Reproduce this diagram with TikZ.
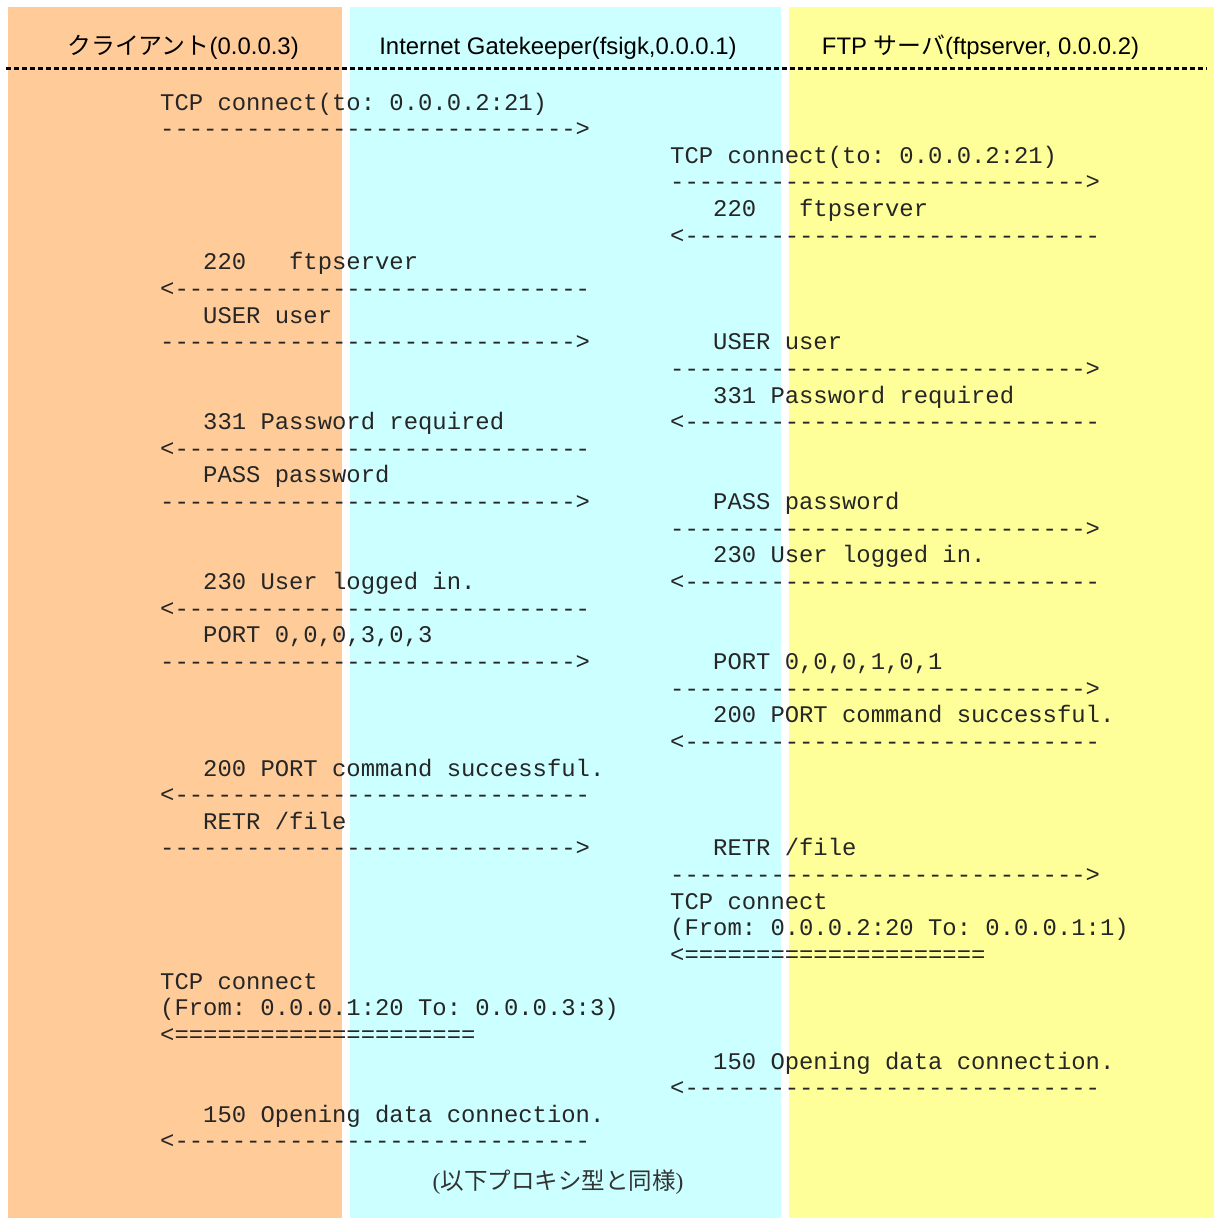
\documentclass[tikz,border=0pt]{standalone}
\usepackage{fontspec}
\setmainfont{Liberation Sans}
\setmonofont{Liberation Mono}
\newfontfamily\cjk{Noto Sans CJK JP}
\newfontfamily\serifparen{Liberation Serif}
\definecolor{colClient}{HTML}{FFCC99}
\definecolor{colGate}{HTML}{CCFFFF}
\definecolor{colServer}{HTML}{FFFF99}
\tikzset{
  mono/.style={anchor=base west, inner sep=0pt, text=black!85,
    font=\fontsize{23.88}{26}\selectfont\ttfamily\frenchspacing},
  head/.style={anchor=base, inner sep=0pt,
    font=\fontsize{23.9}{26}\selectfont},
  sepline/.style={line width=3pt, dash pattern=on 5pt off 3pt}
}
\newcommand\msg[4]{\node[mono] (#1) at (#2, {110+26.64*#3}) {#4};}
\begin{document}
\begin{tikzpicture}[x=1pt,y=-1pt]
\useasboundingbox (0,0) rectangle (1214,1218);
% columns
\fill[colClient] (8,7) rectangle (342,1218);
\fill[colGate] (350,7) rectangle (780.5,1218);
\fill[colServer] (788.5,7) rectangle (1214,1218);
% headers
\node[head] (hc) at (183,54) {{\cjk クライアント}(0.0.0.3)};
\node[head] (hg) at (558,54) {Internet Gatekeeper(fsigk,0.0.0.1)};
\node[head] (hs) at (980.5,54) {FTP {\cjk サーバ}(ftpserver, 0.0.0.2)};
\coordinate (sl) at (6,68.7);
\coordinate (sr) at (1207,68.7);
\draw[sepline] (sl) -- (sr);
% messages
\def\L{160}
\def\R{670}
\msg{m0}{\L}{0}{TCP connect(to: 0.0.0.2:21)}
\msg{m1}{\L}{1}{----------------------------->}
\msg{m2}{\R}{2}{TCP connect(to: 0.0.0.2:21)}
\msg{m3}{\R}{3}{----------------------------->}
\msg{m4}{\R}{4}{~~~220~~~ftpserver}
\msg{m5}{\R}{5}{<-----------------------------}
\msg{m6}{\L}{6}{~~~220~~~ftpserver}
\msg{m7}{\L}{7}{<-----------------------------}
\msg{m8}{\L}{8}{~~~USER user}
\msg{m9}{\L}{9}{----------------------------->}
\msg{m9r}{\R}{9}{~~~USER user}
\msg{m10}{\R}{10}{----------------------------->}
\msg{m11}{\R}{11}{~~~331 Password required}
\msg{m12}{\R}{12}{<-----------------------------}
\msg{m12l}{\L}{12}{~~~331 Password required}
\msg{m13}{\L}{13}{<-----------------------------}
\msg{m14}{\L}{14}{~~~PASS password}
\msg{m15}{\L}{15}{----------------------------->}
\msg{m15r}{\R}{15}{~~~PASS password}
\msg{m16}{\R}{16}{----------------------------->}
\msg{m17}{\R}{17}{~~~230 User logged in.}
\msg{m18}{\R}{18}{<-----------------------------}
\msg{m18l}{\L}{18}{~~~230 User logged in.}
\msg{m19}{\L}{19}{<-----------------------------}
\msg{m20}{\L}{20}{~~~PORT 0,0,0,3,0,3}
\msg{m21}{\L}{21}{----------------------------->}
\msg{m21r}{\R}{21}{~~~PORT 0,0,0,1,0,1}
\msg{m22}{\R}{22}{----------------------------->}
\msg{m23}{\R}{23}{~~~200 PORT command successful.}
\msg{m24}{\R}{24}{<-----------------------------}
\msg{m25}{\L}{25}{~~~200 PORT command successful.}
\msg{m26}{\L}{26}{<-----------------------------}
\msg{m27}{\L}{27}{~~~RETR /file}
\msg{m28}{\L}{28}{----------------------------->}
\msg{m28r}{\R}{28}{~~~RETR /file}
\msg{m29}{\R}{29}{----------------------------->}
\msg{m30}{\R}{30}{TCP connect}
\msg{m31}{\R}{31}{(From: 0.0.0.2:20 To: 0.0.0.1:1)}
\msg{m32}{\R}{32}{<=====================}
\msg{m33}{\L}{33}{TCP connect}
\msg{m34}{\L}{34}{(From: 0.0.0.1:20 To: 0.0.0.3:3)}
\msg{m35}{\L}{35}{<=====================}
\msg{m36}{\R}{36}{~~~150 Opening data connection.}
\msg{m37}{\R}{37}{<-----------------------------}
\msg{m38}{\L}{38}{~~~150 Opening data connection.}
\msg{m39}{\L}{39}{<-----------------------------}
% footer
\node[head, text=black!80, font=\fontsize{23.5}{26}\selectfont] (foot) at (558,1189) {{\serifparen(}{\cjk 以下プロキシ型と同様}{\serifparen)}};
\end{tikzpicture}
\end{document}
